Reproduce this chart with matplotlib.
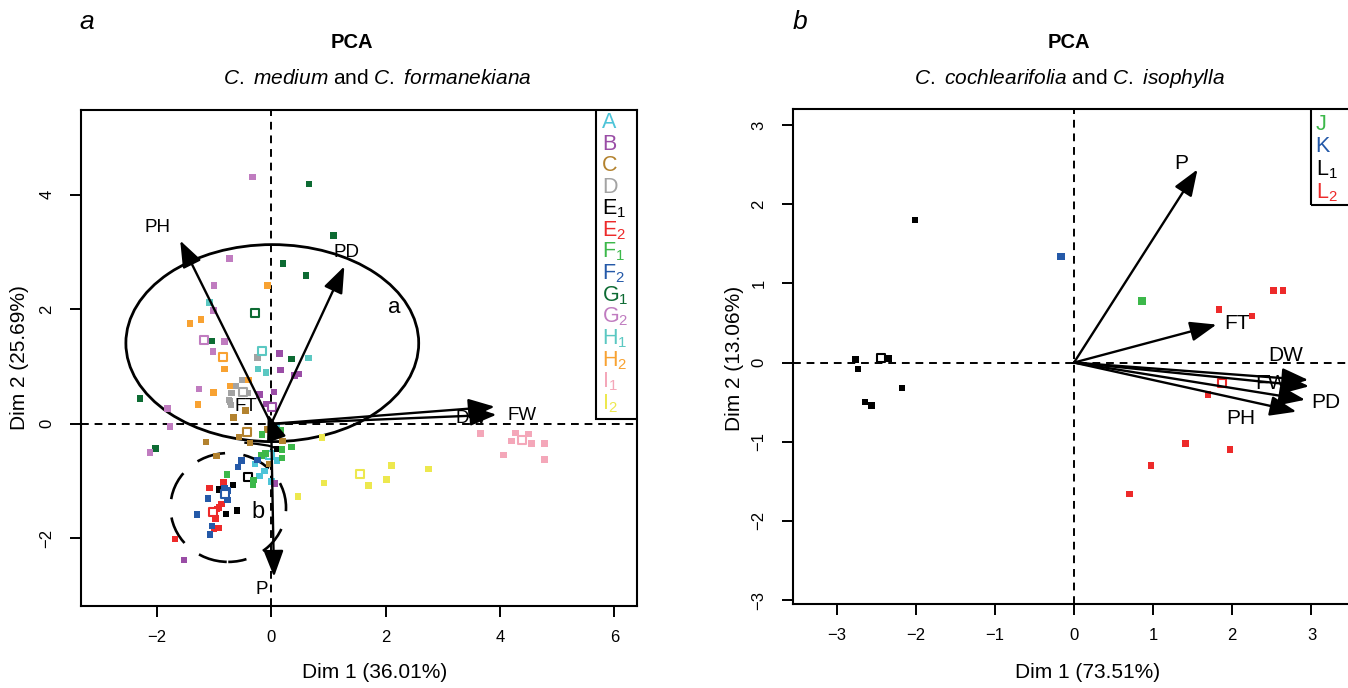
import numpy as np
import matplotlib
matplotlib.use("Agg")
import matplotlib.pyplot as plt
from matplotlib.patches import Ellipse, Rectangle

# font: Helvetica-like
plt.rcParams['font.family'] = ['Liberation Sans', 'DejaVu Sans']
plt.rcParams['mathtext.fontset'] = 'custom'
plt.rcParams['mathtext.rm'] = 'Liberation Sans'
plt.rcParams['mathtext.it'] = 'Liberation Sans:italic'
plt.rcParams['mathtext.bf'] = 'Liberation Sans:bold'

W, H = 1348, 688

# ---------------- panel a data ----------------
groups_a = ['A', 'B', 'C', 'D', 'E1', 'E2', 'F1', 'F2', 'G1', 'G2', 'H1', 'H2', 'I1', 'I2']
labels_a = ['A', 'B', 'C', 'D', r'E$_{\mathregular{1}}$', r'E$_{\mathregular{2}}$',
            r'F$_{\mathregular{1}}$', r'F$_{\mathregular{2}}$', r'G$_{\mathregular{1}}$',
            r'G$_{\mathregular{2}}$', r'H$_{\mathregular{1}}$', r'H$_{\mathregular{2}}$',
            r'I$_{\mathregular{1}}$', r'I$_{\mathregular{2}}$']
colors_a = ['#4DC4D8', '#9A4DA6', '#B3822E', '#A3A3A3', '#000000', '#ED2A2A', '#3CB84A',
            '#2459A8', '#0D6B33', '#C07CC0', '#5BC8C2', '#F8A232', '#F4A7B9', '#EDE84E']

A_x = [0.09, 0.03, -0.05, 0.10, -0.28, -0.12, -0.20, 0.01, 0.09]
A_y = [-0.06, -0.19, -0.57, -0.64, -0.70, -0.82, -0.91, -1.01, -0.09]
B_x = [0.15, 0.16, 0.41, 0.49, 0.05, -0.20, -0.08, 0.06, -1.52]
B_y = [1.23, 0.94, 0.84, 0.87, 0.56, 0.51, 0.35, -1.04, -2.38]
C_x = [-0.45, -0.66, -1.14, -0.96, 0.20, -0.03, -0.56, -0.06, -0.37]
C_y = [0.23, 0.11, -0.32, -0.56, -0.30, -0.70, -0.23, -0.10, -0.33]
D_x = [-0.24, -0.50, -0.62, -0.69, -0.41, -0.74, -0.70, -0.72]
D_y = [1.16, 0.77, 0.66, 0.54, 0.54, 0.42, 0.33, 0.39]
E1_x = [-0.67, -0.90, -0.79, -0.60, 0.10]
E1_y = [-1.07, -1.15, -1.57, -1.51, -0.44]
E2_x = [-1.08, -0.83, -0.87, -0.91, -0.97, -1.00, -0.92, -1.68, -0.95]
E2_y = [-1.12, -1.02, -1.40, -1.46, -1.65, -1.83, -1.82, -2.01, -1.49]
F1_x = [-0.16, 0.17, 0.36, 0.19, -0.10, -0.17, 0.19, -0.77, -0.31, -0.32]
F1_y = [-0.19, -0.11, -0.40, -0.45, -0.52, -0.55, -0.60, -0.88, -0.98, -1.07]
F2_x = [-0.52, -0.58, -0.24, -0.82, -0.76, -0.76, -1.10, -1.30, -1.03, -1.07]
F2_y = [-0.64, -0.75, -0.63, -1.12, -1.16, -1.33, -1.30, -1.58, -1.78, -1.93]
G1_x = [0.66, 1.09, 0.21, 0.61, -1.04, 0.36, -2.29, -2.02]
G1_y = [4.19, 3.29, 2.80, 2.59, 1.45, 1.13, 0.44, -0.43]
G2_x = [-0.33, -0.73, -1.00, -1.01, -0.82, -1.02, -1.26, -1.81, -1.77, -2.12]
G2_y = [4.31, 2.89, 2.42, 1.98, 1.44, 1.26, 0.61, 0.27, -0.05, -0.50]
H1_x = [-1.08, -0.23, -0.09, 0.65]
H1_y = [2.12, 0.96, 0.90, 1.15]
H2_x = [-0.06, -1.42, -1.23, -0.82, -0.72, -1.01, -1.28, -0.40]
H2_y = [2.42, 1.75, 1.82, 0.96, 0.66, 0.55, 0.34, 0.77]
I1_x = [3.66, 4.27, 4.50, 4.20, 4.55, 4.78, 4.06, 4.78]
I1_y = [-0.17, -0.16, -0.18, -0.30, -0.34, -0.34, -0.54, -0.62]
I2_x = [0.89, 2.10, 2.75, 2.02, 1.70, 0.92, 0.47]
I2_y = [-0.24, -0.73, -0.79, -0.97, -1.08, -1.03, -1.27]

pts_a = {'A': (A_x, A_y), 'B': (B_x, B_y), 'C': (C_x, C_y), 'D': (D_x, D_y),
         'E1': (E1_x, E1_y), 'E2': (E2_x, E2_y), 'F1': (F1_x, F1_y), 'F2': (F2_x, F2_y),
         'G1': (G1_x, G1_y), 'G2': (G2_x, G2_y), 'H1': (H1_x, H1_y), 'H2': (H2_x, H2_y),
         'I1': (I1_x, I1_y), 'I2': (I2_x, I2_y)}

# group means (hollow squares)
mean_a = {'A': (-0.02, -0.54), 'B': (0.02, 0.29), 'C': (-0.42, -0.15), 'D': (-0.50, 0.55),
          'E1': (-0.40, -0.92), 'E2': (-1.02, -1.54), 'F2': (-0.80, -1.22), 'G1': (-0.29, 1.93),
          'G2': (-1.17, 1.46), 'H1': (-0.16, 1.28), 'H2': (-0.85, 1.16), 'I1': (4.39, -0.28),
          'I2': (1.56, -0.87)}

vars_a = ['PH', 'PD', 'DW', 'FW', 'FT', 'P']
var_a_x = [-1.59, 1.28, 3.94, 3.91, -0.06, 0.05]
var_a_y = [3.20, 2.75, 0.16, 0.30, 0.17, -2.67]
var_a_lx = [-1.99, 1.31, 3.50, 4.39, -0.44, -0.16]
var_a_ly = [3.42, 3.00, 0.10, 0.14, 0.31, -2.90]

# hand drawn cluster ellipses
ell_a_centre = (0.02, 1.41)
ell_a_size = (5.12, 3.44)
ell_b_centre = (-0.75, -1.46)
ell_b_size = (2.02, 1.90)
hook_x = [-0.45, -0.25, -0.05, 0.08, 0.13]
hook_y = [-0.33, -0.35, -0.38, -0.42, -0.46]

# ---------------- panel b data ----------------
groups_b = ['J', 'K', 'L1', 'L2']
labels_b = ['J', 'K', r'L$_{\mathregular{1}}$', r'L$_{\mathregular{2}}$']
colors_b = ['#3CB84A', '#2459A8', '#000000', '#ED2A2A']
J_x = [0.86]
J_y = [0.78]
K_x = [-0.16]
K_y = [1.34]
L1_x = [-2.01, -2.76, -2.73, -2.64, -2.56, -2.17, -2.39, -2.34]
L1_y = [1.80, 0.04, -0.08, -0.50, -0.54, -0.32, 0.05, 0.05]
L2_x = [2.52, 2.64, 1.83, 2.25, 2.67, 1.69, 1.41, 1.97, 0.97, 0.70]
L2_y = [0.91, 0.91, 0.67, 0.59, -0.20, -0.40, -1.02, -1.10, -1.30, -1.66]
pts_b = {'J': (J_x, J_y), 'K': (K_x, K_y), 'L1': (L1_x, L1_y), 'L2': (L2_x, L2_y)}
mean_b = {'L1': (-2.44, 0.06), 'L2': (1.87, -0.26)}

vars_b = ['P', 'FT', 'DW', 'FW', 'PD', 'PH']
var_b_x = [1.56, 1.80, 2.96, 2.97, 2.92, 2.81]
var_b_y = [2.44, 0.48, -0.22, -0.30, -0.47, -0.62]
var_b_lx = [1.36, 2.06, 2.68, 2.49, 3.18, 2.11]
var_b_ly = [2.52, 0.49, 0.09, -0.27, -0.51, -0.71]


def fx(px):
    return px / W


def fy(py):
    return 1 - py / H


fig = plt.figure(figsize=(W / 100, H / 100), dpi=100)
ax1 = fig.add_axes([fx(80.7), fy(606), (636.6 - 80.7) / W, (606 - 110) / H])
ax2 = fig.add_axes([fx(793), fy(604), 562 / W, (604 - 109.3) / H])


def style_axes(ax, xt, yt):
    for s in ax.spines.values():
        s.set_linewidth(1.5)
    ax.set_xticks(xt)
    ax.set_yticks(yt)
    ax.set_xticklabels([str(v).replace('-', '\u2212') for v in xt])
    ax.set_yticklabels([str(v).replace('-', '\u2212') for v in yt], rotation=90, va='center')
    ax.tick_params(axis='both', length=8, width=1.4, labelsize=12)
    ax.tick_params(axis='x', pad=9)
    ax.tick_params(axis='y', pad=11)
    ax.axhline(0, color='black', lw=1.4, ls=(0, (4, 3)), zorder=1)
    ax.axvline(0, color='black', lw=1.4, ls=(0, (4, 3)), zorder=1)


def arrow(ax, x, y):
    ax.annotate('', xy=(x, y), xytext=(0, 0),
                arrowprops=dict(arrowstyle='-|>,head_length=0.95,head_width=0.36',
                                mutation_scale=17, lw=1.7, color='black',
                                shrinkA=0, shrinkB=0), zorder=4)


# ---- panel a ----
ax1.set_xlim(-3.33, 6.39)
ax1.set_ylim(-3.18, 5.48)
style_axes(ax1, [-2, 0, 2, 4, 6], [-2, 0, 2, 4])

for g, c in zip(groups_a, colors_a):
    x, y = pts_a[g]
    ax1.scatter(x, y, marker='s', s=22, color=c, edgecolors='none', zorder=3)
    if g in mean_a:
        ax1.scatter(*mean_a[g], marker='s', s=36, facecolors='white', edgecolors=c,
                    linewidths=1.5, zorder=3)

for v, x, y, lx, ly in zip(vars_a, var_a_x, var_a_y, var_a_lx, var_a_ly):
    arrow(ax1, x, y)
    ax1.text(lx, ly, v, fontsize=13.5, ha='center', va='center', zorder=5)

ax1.add_patch(Ellipse(ell_a_centre, *ell_a_size, fill=False, lw=2.0, ec='black', zorder=2))
ax1.add_patch(Ellipse(ell_b_centre, *ell_b_size, fill=False, lw=1.9, ec='black',
                      ls=(4, (11, 7)), zorder=2))
ax1.plot(hook_x, hook_y, color='black', lw=1.6, zorder=2)
ax1.text(2.15, 2.04, 'a', fontsize=16, ha='center', va='center')
ax1.text(-0.23, -1.54, 'b', fontsize=17, ha='center', va='center')

# legend a
ax1.add_patch(Rectangle((0.927, 0.377), 0.075, 0.625, transform=ax1.transAxes,
                        fill=False, lw=1.5, ec='black', zorder=6))
leg_y = np.linspace(0.975, 0.408, len(groups_a))
for lab, c, yy in zip(labels_a, colors_a, leg_y):
    ax1.text(0.938, yy, lab, color=c, fontsize=15.5, ha='left', va='center',
             transform=ax1.transAxes, zorder=6)

# ---- panel b ----
ax2.set_xlim(-3.55, 3.55)
ax2.set_ylim(-3.05, 3.20)
style_axes(ax2, [-3, -2, -1, 0, 1, 2, 3], [-3, -2, -1, 0, 1, 2, 3])

for g, c in zip(groups_b, colors_b):
    x, y = pts_b[g]
    sz = 32 if g in ('J', 'K') else 22
    ax2.scatter(x, y, marker='s', s=sz, color=c, edgecolors='none', zorder=3)
    if g in mean_b:
        ax2.scatter(*mean_b[g], marker='s', s=36, facecolors='white', edgecolors=c,
                    linewidths=1.5, zorder=3)

for v, x, y, lx, ly in zip(vars_b, var_b_x, var_b_y, var_b_lx, var_b_ly):
    arrow(ax2, x, y)
    ax2.text(lx, ly, v, fontsize=15, ha='center', va='center', zorder=5)

ax2.add_patch(Rectangle((0.921, 0.806), 0.2, 0.2, transform=ax2.transAxes,
                        fill=False, lw=1.5, ec='black', zorder=6))
leg_y = np.linspace(0.970, 0.832, len(groups_b))
for lab, c, yy in zip(labels_b, colors_b, leg_y):
    ax2.text(0.930, yy, lab, color=c, fontsize=15.5, ha='left', va='center',
             transform=ax2.transAxes, zorder=6)

# ---- titles and axis labels ----
fig.text(fx(87), fy(22), 'a', fontsize=19, style='italic', ha='center', va='center')
fig.text(fx(800), fy(22), 'b', fontsize=19, style='italic', ha='center', va='center')
fig.text(fx(352), fy(42), 'PCA', fontsize=14.5, weight='bold', ha='center', va='center')
fig.text(fx(1069), fy(42), 'PCA', fontsize=14.5, weight='bold', ha='center', va='center')
fig.text(fx(377), fy(78), r'$\mathit{C.\ medium}$ and $\mathit{C.\ formanekiana}$',
         fontsize=15, ha='center', va='center')
fig.text(fx(1070), fy(78), r'$\mathit{C.\ cochlearifolia}$ and $\mathit{C.\ isophylla}$',
         fontsize=15, ha='center', va='center')
fig.text(fx(375), fy(672), 'Dim 1 (36.01%)', fontsize=15, ha='center', va='center')
fig.text(fx(1088), fy(672), 'Dim 1 (73.51%)', fontsize=15, ha='center', va='center')
fig.text(fx(20), fy(358), 'Dim 2 (25.69%)', fontsize=15, rotation=90, ha='center', va='center')
fig.text(fx(735), fy(358), 'Dim 2 (13.06%)', fontsize=15, rotation=90, ha='center', va='center')

fig.savefig('out.png', dpi=100)
